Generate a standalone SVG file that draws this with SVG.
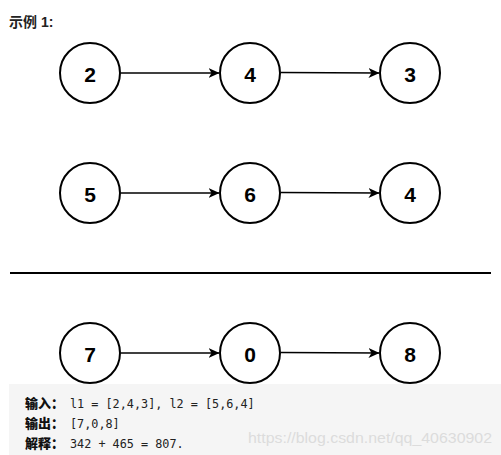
<svg xmlns="http://www.w3.org/2000/svg" width="501" height="455" viewBox="0 0 501 455">
<style>
.n circle{fill:#fff;stroke:#000;stroke-width:2}
.n text{font-family:"Liberation Sans",Arial,sans-serif;font-weight:bold;font-size:21px;text-anchor:middle;dominant-baseline:central;fill:#000}
.e{stroke:#000;stroke-width:1.5;fill:none;marker-end:url(#a)}
.lbl{font-family:"Liberation Sans","Noto Sans CJK SC",sans-serif;font-weight:bold;font-size:14px;fill:#222}
.code{font-family:"DejaVu Sans Mono","Liberation Mono",monospace;font-size:11.8px;fill:#222}
.cl{font-family:"Noto Sans CJK SC",sans-serif;font-weight:900;font-size:13px;fill:#111}
</style>
<defs>
<marker id="a" viewBox="0 0 11 10" refX="10.5" refY="5" markerWidth="11" markerHeight="10" markerUnits="userSpaceOnUse" orient="auto">
<path d="M0,0 L11,5 L0,10 L3,5 z" fill="#000"/>
</marker>
</defs>
<rect width="501" height="455" fill="#fff"/>
<text x="9" y="27" class="lbl">示例 1:</text>
<g id="edges">
<line class="e" x1="121" y1="73" x2="219" y2="73"/>
<line class="e" x1="281" y1="72.5" x2="379" y2="73"/>
<line class="e" x1="121" y1="193" x2="219" y2="193"/>
<line class="e" x1="281" y1="192.5" x2="379" y2="193"/>
<line class="e" x1="121" y1="353" x2="219" y2="353"/>
<line class="e" x1="281" y1="352.5" x2="379" y2="353"/>
</g>
<g id="n1" class="n"><circle cx="90" cy="73" r="30"/><text x="90" y="74">2</text></g>
<g id="n2" class="n"><circle cx="250" cy="73" r="30"/><text x="250" y="74">4</text></g>
<g id="n3" class="n"><circle cx="410" cy="73" r="30"/><text x="410" y="74">3</text></g>
<g id="n4" class="n"><circle cx="90" cy="193" r="30"/><text x="90" y="194">5</text></g>
<g id="n5" class="n"><circle cx="250" cy="193" r="30"/><text x="250" y="194">6</text></g>
<g id="n6" class="n"><circle cx="410" cy="193" r="30"/><text x="410" y="194">4</text></g>
<line x1="10" y1="273" x2="491" y2="273" stroke="#000" stroke-width="2"/>
<g id="n7" class="n"><circle cx="90" cy="353" r="30"/><text x="90" y="354">7</text></g>
<g id="n8" class="n"><circle cx="250" cy="353" r="30"/><text x="250" y="354">0</text></g>
<g id="n9" class="n"><circle cx="410" cy="353" r="30"/><text x="410" y="354">8</text></g>
<rect x="9" y="384" width="492" height="71" fill="#f5f5f5"/>
<text x="25" y="408" class="cl">输入：</text><text x="70" y="408" class="code">l1 = [2,4,3], l2 = [5,6,4]</text>
<text x="25" y="428" class="cl">输出：</text><text x="70" y="428" class="code">[7,0,8]</text>
<text x="25" y="448" class="cl">解释：</text><text x="70" y="448" class="code">342 + 465 = 807.</text>
<text x="248" y="443" font-family="'Liberation Sans',Arial,sans-serif" font-size="15.5" fill="#dcdcdc" textLength="244" lengthAdjust="spacingAndGlyphs">https://blog.csdn.net/qq_40630902</text>
</svg>
